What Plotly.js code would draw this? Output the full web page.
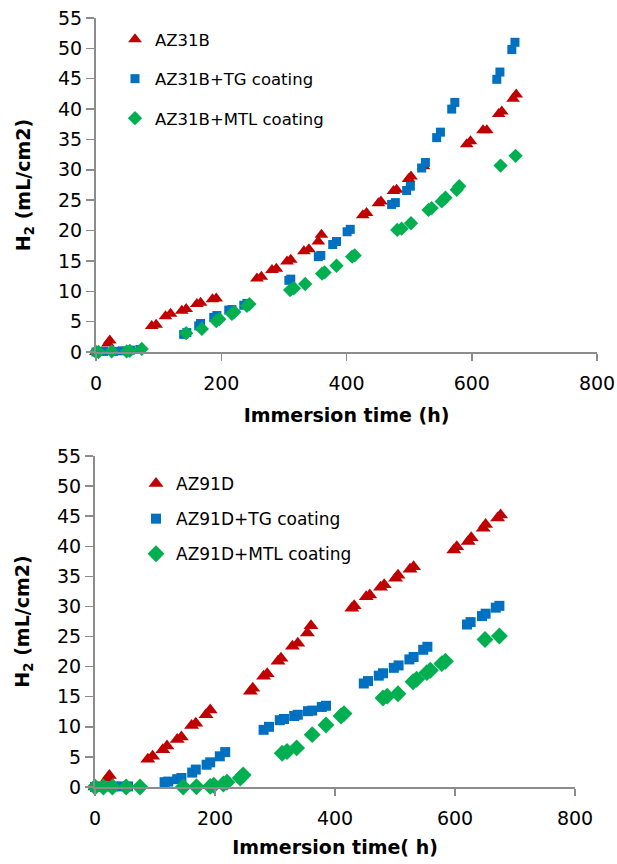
<!DOCTYPE html>
<html>
<head>
<meta charset="utf-8">
<script src="https://cdn.plot.ly/plotly-3.0.1.min.js"></script>
<style>html,body{margin:0;padding:0;background:#fff;}#chart{width:617px;height:864px;}</style>
</head>
<body>
<div id="chart"></div>
<script>
// ---- Top panel: AZ31B ----
const az31b_x = [0, 19, 22, 89, 96, 111, 119, 137, 144, 161, 167, 186, 192, 257, 264, 281, 288, 305, 311, 332, 340, 355, 360, 426, 432, 451, 455, 475, 480, 499, 503, 523, 592, 598, 618, 624, 643, 648, 666, 671];
const az31b_y = [0, 1.4, 1.9, 4.3, 4.5, 5.9, 6.3, 6.8, 7.1, 7.9, 8.1, 8.7, 8.8, 12.1, 12.4, 13.5, 13.7, 14.9, 15.2, 16.6, 16.9, 18.2, 19.3, 22.5, 22.9, 24.5, 24.8, 26.5, 26.7, 28.5, 28.9, 30.6, 34.2, 34.7, 36.5, 36.5, 39.2, 39.6, 41.7, 42.4];
const az31b_tg_x = [0, 12, 28, 42, 55, 70, 140, 145, 164, 167, 188, 193, 212, 217, 236, 241, 308, 311, 355, 359, 378, 384, 401, 406, 472, 478, 496, 502, 520, 526, 544, 550, 568, 573, 640, 645, 664, 669];
const az31b_tg_y = [0, 0.1, 0.1, 0.2, 0.3, 0.4, 2.9, 3.2, 4.3, 4.7, 5.7, 6.0, 6.9, 7.0, 7.7, 8.0, 11.8, 12.0, 15.7, 15.9, 17.7, 18.2, 19.8, 20.2, 24.3, 24.6, 26.6, 27.3, 30.3, 31.2, 35.3, 36.2, 40.0, 41.1, 44.9, 46.1, 49.8, 51.0];
const az31b_mtl_x = [0, 4, 25, 49, 54, 73, 144, 169, 192, 197, 217, 221, 241, 245, 310, 316, 334, 361, 365, 384, 409, 413, 481, 488, 503, 531, 536, 552, 558, 576, 580, 646, 670];
const az31b_mtl_y = [0, 0, 0.1, 0.1, 0.2, 0.5, 3.1, 3.8, 5.1, 5.4, 6.3, 6.6, 7.6, 7.9, 10.2, 10.5, 11.2, 12.9, 13.1, 14.2, 15.7, 15.9, 20.1, 20.3, 21.2, 23.4, 23.7, 24.8, 25.4, 26.7, 27.3, 30.7, 32.3];

// ---- Bottom panel: AZ91D ----
const az91d_x = [0, 21, 24, 88, 96, 113, 120, 137, 144, 161, 168, 185, 192, 259, 263, 281, 287, 305, 310, 329, 338, 354, 360, 428, 432, 452, 458, 476, 482, 501, 505, 525, 531, 598, 603, 622, 627, 647, 651, 671, 676];
const az91d_y = [0, 1.5, 1.9, 4.6, 5.1, 6.2, 6.8, 7.9, 8.3, 10.2, 10.6, 12.0, 12.8, 15.9, 16.4, 18.4, 18.8, 20.9, 21.4, 23.4, 23.9, 25.6, 26.8, 29.7, 30.1, 31.6, 31.9, 33.2, 33.6, 34.7, 35.2, 36.2, 36.6, 39.4, 39.9, 40.8, 41.4, 43.0, 43.6, 44.7, 45.2];
const az91d_tg_x = [0, 10, 20, 30, 45, 55, 116, 122, 137, 144, 162, 168, 186, 192, 208, 217, 281, 290, 308, 315, 332, 338, 355, 362, 378, 385, 448, 455, 473, 480, 498, 506, 524, 531, 547, 554, 620, 626, 645, 651, 668, 674];
const az91d_tg_y = [0, 0.1, 0.1, 0.1, 0.1, 0.1, 0.8, 0.9, 1.3, 1.5, 2.4, 2.9, 3.7, 4.1, 5.1, 5.8, 9.5, 10.0, 11.1, 11.3, 11.8, 12.0, 12.6, 12.7, 13.3, 13.5, 17.2, 17.6, 18.5, 18.9, 19.8, 20.2, 21.2, 21.6, 22.8, 23.3, 27.0, 27.4, 28.4, 28.8, 29.8, 30.1];
const az91d_mtl_x = [0, 14, 29, 52, 75, 147, 169, 192, 198, 214, 220, 242, 247, 312, 320, 336, 362, 385, 410, 415, 480, 487, 505, 530, 536, 553, 559, 578, 584, 650, 674];
const az91d_mtl_y = [0, 0, 0, 0, 0, 0, 0.05, 0.1, 0.3, 0.5, 0.8, 1.5, 2.0, 5.6, 5.9, 6.5, 8.7, 10.3, 11.8, 12.2, 14.8, 15.1, 15.5, 17.5, 17.9, 19.0, 19.4, 20.5, 20.9, 24.5, 25.1];

const yTicks = [0, 5, 10, 15, 20, 25, 30, 35, 40, 45, 50, 55];
const xTicks = [0, 200, 400, 600, 800];

const RED = '#C00000', BLUE = '#0070C0', GREEN = '#00B050';
const W = 617, H = 864;
const FONT = 'DejaVu Sans, sans-serif';

function tr(x, y, name, color, symbol, size, xa, ya, leg, grp) {
  return {x: x, y: y, name: name, type: 'scatter', mode: 'markers',
    xaxis: xa, yaxis: ya, legend: leg, legendgroup: grp, cliponaxis: false,
    marker: {color: color, symbol: symbol, size: size, line: {width: 0}}};
}

const data = [
  tr(az31b_x, az31b_y, 'AZ31B', RED, 'triangle-up', 12, 'x', 'y', 'legend', 'a'),
  tr(az31b_tg_x, az31b_tg_y, 'AZ31B+TG coating', BLUE, 'square', 9, 'x', 'y', 'legend', 'b'),
  tr(az31b_mtl_x, az31b_mtl_y, 'AZ31B+MTL coating', GREEN, 'diamond', 11, 'x', 'y', 'legend', 'c'),
  tr(az91d_x, az91d_y, 'AZ91D', RED, 'triangle-up', 13, 'x2', 'y2', 'legend2', 'd'),
  tr(az91d_tg_x, az91d_tg_y, 'AZ91D+TG coating', BLUE, 'square', 10, 'x2', 'y2', 'legend2', 'e'),
  tr(az91d_mtl_x, az91d_mtl_y, 'AZ91D+MTL coating', GREEN, 'diamond', 13, 'x2', 'y2', 'legend2', 'f')
];

function xax(domain, titleText, anchor, tstand) {
  return {domain: domain, range: [0, 800], anchor: anchor, tickvals: xTicks, ticktext: xTicks.map(String),
    showgrid: false, zeroline: false, showline: true, linecolor: '#8c8c8c', linewidth: 2,
    ticks: 'outside', ticklen: 7, tickwidth: 1.5, tickcolor: '#8c8c8c', ticklabelstandoff: 6,
    tickfont: {family: FONT, size: 19, color: '#000'},
    title: {text: titleText, standoff: tstand, font: {family: FONT, size: 19, color: '#000', weight: 'bold'}}};
}
function yax(domain, anchor) {
  return {domain: domain, range: [0, 55], anchor: anchor, tickvals: yTicks, ticktext: yTicks.map(String),
    showgrid: false, zeroline: false, showline: true, linecolor: '#8c8c8c', linewidth: 2,
    ticks: 'outside', ticklen: 8, tickwidth: 1.5, tickcolor: '#8c8c8c',
    tickfont: {family: FONT, size: 19, color: '#000'},
    title: {text: 'H<sub>2</sub> (mL/cm2)', standoff: 22, font: {family: FONT, size: 19, color: '#000', weight: 'bold'}}};
}

const layout = {
  width: W, height: H,
  margin: {l: 0, r: 0, t: 0, b: 0},
  paper_bgcolor: '#fff', plot_bgcolor: '#fff',
  showlegend: true,
  font: {family: FONT, color: '#000'},
  xaxis: xax([96 / W, 597 / W], 'Immersion time (h)', 'y', 16),
  yaxis: yax([1 - 352 / H, 1 - 18 / H], 'x'),
  xaxis2: xax([95 / W, 575 / W], 'Immersion time( h)', 'y2', 13),
  yaxis2: yax([1 - 787 / H, 1 - 456 / H], 'x2'),
  legend: {x: 115 / W, y: 1 - 22 / H, xanchor: 'left', yanchor: 'top', bgcolor: 'rgba(0,0,0,0)',
    font: {family: FONT, size: 16.5, color: '#000'}, traceorder: 'grouped', tracegroupgap: 15},
  legend2: {x: 136 / W, y: 1 - 466 / H, xanchor: 'left', yanchor: 'top', bgcolor: 'rgba(0,0,0,0)',
    font: {family: FONT, size: 17, color: '#000'}, traceorder: 'grouped', tracegroupgap: 10}
};

Plotly.newPlot('chart', data, layout, {displayModeBar: false, staticPlot: true});
</script>
</body>
</html>
